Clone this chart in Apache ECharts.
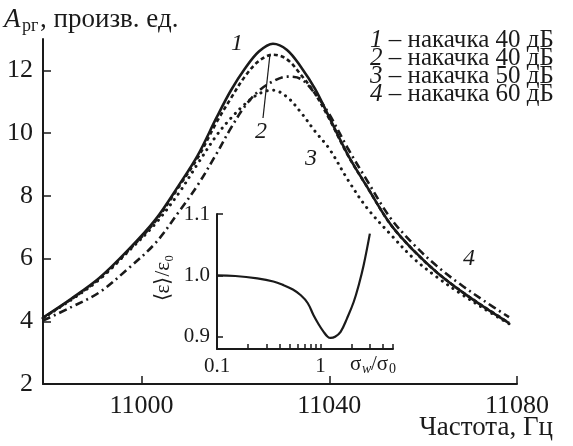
<!DOCTYPE html>
<html>
<head>
<meta charset="utf-8">
<script src="https://cdn.jsdelivr.net/npm/echarts@6/dist/echarts.min.js"></script>
<style>
  html, body { margin: 0; padding: 0; background: #fff; }
  #chart { width: 573px; height: 446px; }
</style>
</head>
<body>
<div id="chart"></div>
<script>
// main plot: frequency (Hz) vs amplitude
var xTicks = [11000, 11040, 11080];
var yTicks = [2, 4, 6, 8, 10, 12];

var freq = [10979, 10985, 10991, 10997, 11003, 11008, 11012, 11016, 11019, 11022, 11025, 11028, 11031, 11034, 11037, 11040, 11044, 11048, 11053, 11058, 11063, 11068, 11073, 11078.3];
var amp1 = [4.12, 4.72, 5.38, 6.25, 7.25, 8.35, 9.3, 10.5, 11.35, 12.05, 12.6, 12.85, 12.65, 12.1, 11.4, 10.5, 9.3, 8.3, 7.1, 6.25, 5.55, 4.97, 4.45, 3.94];
var amp2 = [4.1, 4.7, 5.35, 6.22, 7.2, 8.3, 9.22, 10.35, 11.1, 11.8, 12.3, 12.5, 12.35, 11.85, 11.25, 10.45, 9.28, 8.3, 7.1, 6.25, 5.55, 4.97, 4.46, 3.95];
var amp3 = [4.1, 4.68, 5.33, 6.2, 7.12, 8.1, 9.03, 9.93, 10.47, 10.92, 11.25, 11.37, 11.15, 10.65, 10.05, 9.5, 8.5, 7.62, 6.78, 6.0, 5.4, 4.88, 4.4, 3.92];
var amp4 = [4.02, 4.45, 4.92, 5.66, 6.5, 7.5, 8.35, 9.35, 10.15, 10.85, 11.35, 11.65, 11.8, 11.72, 11.25, 10.6, 9.5, 8.5, 7.3, 6.45, 5.75, 5.17, 4.65, 4.13];

// inset: <eps>/eps0 vs sigma_w/sigma_0 (log)
var insetX = [0.1, 0.15, 0.245, 0.35, 0.44, 0.54, 0.64, 0.75, 0.855, 0.96, 1.07, 1.17, 1.25, 1.38, 1.56, 1.8, 2.09, 2.35, 2.6, 2.99];
var insetY = [1.0, 0.999, 0.995, 0.99, 0.984, 0.977, 0.968, 0.955, 0.935, 0.92, 0.908, 0.9, 0.898, 0.9, 0.908, 0.93, 0.957, 0.986, 1.016, 1.068];
var insetXLabels = [0.1, 1];
var insetXTicks = [0.1, 0.2, 0.3, 0.4, 0.5, 0.6, 0.7, 0.8, 0.9, 1, 2, 3, 4, 5];
var insetYTicks = [0.9, 1.0, 1.1];

function pairs(xs, ys) {
  var out = [];
  for (var i = 0; i < xs.length; i++) out.push([xs[i], ys[i]]);
  return out;
}

var ink = '#1a1a1a';
var serif = 'Liberation Serif';
var axisLine = { show: true, lineStyle: { color: ink, width: 2 } };

var chart = echarts.init(document.getElementById('chart'));
var option = {
  backgroundColor: '#fff',
  animation: false,
  grid: [
    { left: 43, top: 39, right: 56, bottom: 62 },
    { left: 217, top: 214, width: 176, height: 135 }
  ],
  xAxis: [
    {
      type: 'value', gridIndex: 0, min: 10979, max: 11080,
      axisLine: axisLine,
      axisTick: { show: true, inside: true, length: 8, customValues: xTicks, lineStyle: { color: ink, width: 1.5 } },
      axisLabel: { customValues: xTicks, color: ink, fontFamily: serif, fontSize: 26, margin: 9,
        formatter: function (v) { return String(v); } },
      splitLine: { show: false }
    },
    {
      type: 'log', gridIndex: 1, logBase: 10, min: 0.1, max: 5,
      axisLine: axisLine,
      axisTick: { show: true, inside: true, length: 5, customValues: insetXTicks, lineStyle: { color: ink, width: 1.5 } },
      axisLabel: { customValues: insetXLabels, color: ink, fontFamily: serif, fontSize: 21, margin: 7,
        formatter: function (v) { return v < 1 ? '0.1' : '1'; } },
      splitLine: { show: false }, minorTick: { show: false }
    }
  ],
  yAxis: [
    {
      type: 'value', gridIndex: 0, min: 2, max: 13,
      axisLine: axisLine,
      axisTick: { show: true, inside: true, length: 8, customValues: yTicks, lineStyle: { color: ink, width: 1.5 } },
      axisLabel: { customValues: yTicks, color: ink, fontFamily: serif, fontSize: 26, margin: 10 },
      splitLine: { show: false }
    },
    {
      type: 'value', gridIndex: 1, min: 0.88, max: 1.1,
      axisLine: axisLine,
      axisTick: { show: true, inside: true, length: 6, customValues: insetYTicks, lineStyle: { color: ink, width: 1.5 } },
      axisLabel: { customValues: insetYTicks, color: ink, fontFamily: serif, fontSize: 21, margin: 7,
        formatter: function (v) { return v.toFixed(1); } },
      splitLine: { show: false }
    }
  ],
  series: [
    { type: 'line', xAxisIndex: 0, yAxisIndex: 0, data: pairs(freq, amp1), smooth: 0.35, showSymbol: false,
      lineStyle: { color: ink, width: 2.6 } },
    { type: 'line', xAxisIndex: 0, yAxisIndex: 0, data: pairs(freq, amp2), smooth: 0.35, showSymbol: false,
      lineStyle: { color: ink, width: 2.6, type: [4, 3] } },
    { type: 'line', xAxisIndex: 0, yAxisIndex: 0, data: pairs(freq, amp3), smooth: 0.35, showSymbol: false,
      lineStyle: { color: ink, width: 3, type: [0.1, 6.5], cap: 'round' } },
    { type: 'line', xAxisIndex: 0, yAxisIndex: 0, data: pairs(freq, amp4), smooth: 0.35, showSymbol: false,
      lineStyle: { color: ink, width: 2.6, type: [8, 4, 2, 4] } },
    { type: 'line', xAxisIndex: 1, yAxisIndex: 1, data: pairs(insetX, insetY), smooth: 0.4, showSymbol: false,
      lineStyle: { color: ink, width: 2.2 } }
  ],
  graphic: [
    // y-axis title
    { type: 'text', left: 4, top: 6, style: { text: 'A', font: 'italic 27px ' + serif, fill: ink } },
    { type: 'text', left: 22, top: 17, style: { text: 'рг', font: '18px ' + serif, fill: ink } },
    { type: 'text', left: 40, top: 6, style: { text: ', произв. ед.', font: '27px ' + serif, fill: ink } },
    // legend
    { type: 'text', left: 370, top: 28, style: { text: '{n|1} – накачка 40 дБ', font: '25px ' + serif, fill: ink,
      rich: { n: { fontStyle: 'italic', fontSize: 25, fontFamily: serif } } } },
    { type: 'text', left: 370, top: 46, style: { text: '{n|2} – накачка 40 дБ', font: '25px ' + serif, fill: ink,
      rich: { n: { fontStyle: 'italic', fontSize: 25, fontFamily: serif } } } },
    { type: 'text', left: 370, top: 64, style: { text: '{n|3} – накачка 50 дБ', font: '25px ' + serif, fill: ink,
      rich: { n: { fontStyle: 'italic', fontSize: 25, fontFamily: serif } } } },
    { type: 'text', left: 370, top: 82, style: { text: '{n|4} – накачка 60 дБ', font: '25px ' + serif, fill: ink,
      rich: { n: { fontStyle: 'italic', fontSize: 25, fontFamily: serif } } } },
    // curve labels
    { type: 'text', left: 231, top: 32, style: { text: '1', font: 'italic 24px ' + serif, fill: ink } },
    { type: 'text', left: 255, top: 120, style: { text: '2', font: 'italic 24px ' + serif, fill: ink } },
    { type: 'text', left: 305, top: 147, style: { text: '3', font: 'italic 24px ' + serif, fill: ink } },
    { type: 'text', left: 463, top: 247, style: { text: '4', font: 'italic 24px ' + serif, fill: ink } },
    { type: 'line', shape: { x1: 263, y1: 118, x2: 270, y2: 54 }, style: { stroke: ink, lineWidth: 1.2 } },
    // x-axis title
    { type: 'text', right: 20, top: 414, style: { text: 'Частота, Гц', font: '27px ' + serif, fill: ink } },
    // inset axis titles
    { type: 'text', left: 350, top: 354, style: { text: 'σ', font: '21px ' + serif, fill: ink } },
    { type: 'text', left: 362, top: 362, style: { text: 'w', font: 'italic 14px ' + serif, fill: ink } },
    { type: 'text', left: 371, top: 354, style: { text: '/σ', font: '21px ' + serif, fill: ink } },
    { type: 'text', left: 389, top: 362, style: { text: '0', font: '14px ' + serif, fill: ink } },
    { type: 'text', x: 163, y: 278, rotation: Math.PI / 2,
      style: { text: '⟨ε⟩/ε₀', font: '21px ' + serif, fill: ink, align: 'center', verticalAlign: 'middle' } }
  ]
};
chart.setOption(option);
</script>
</body>
</html>
